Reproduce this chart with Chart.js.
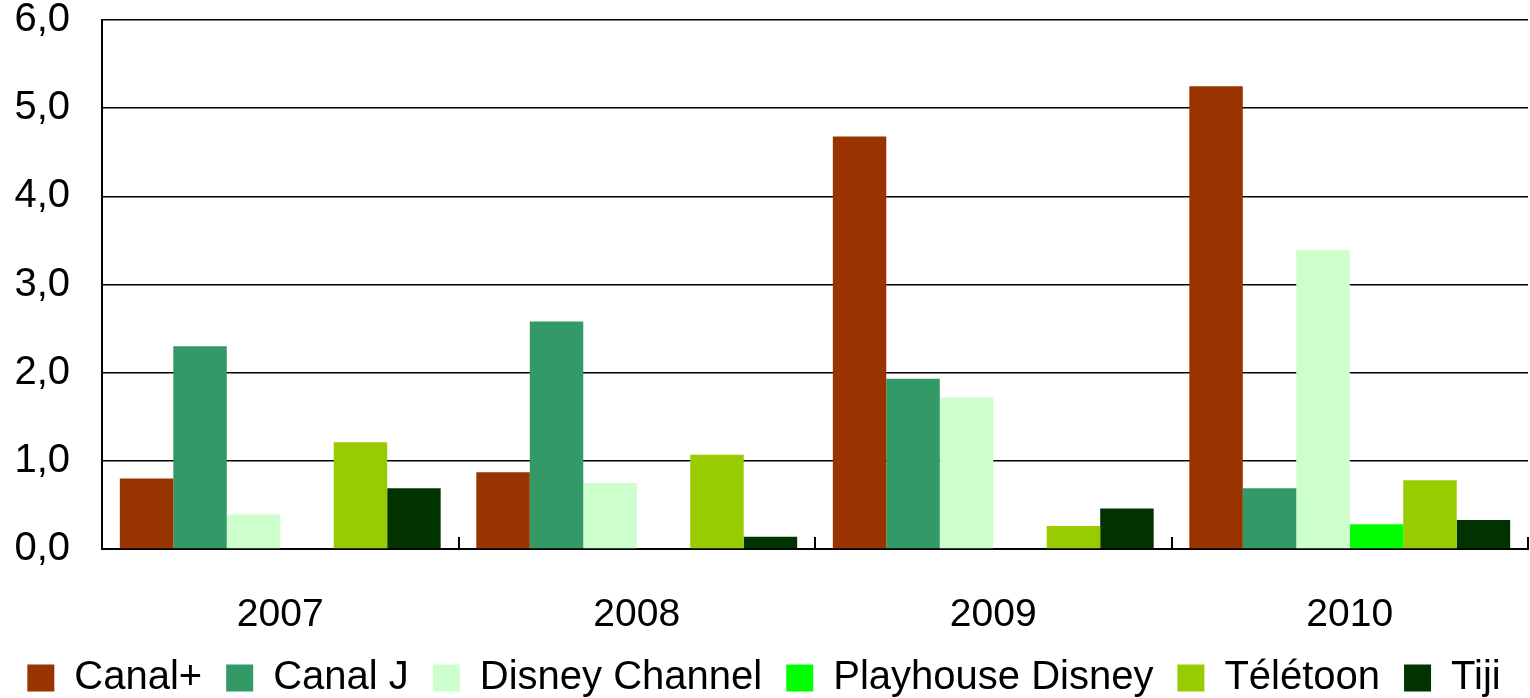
<!DOCTYPE html>
<html>
<head>
<meta charset="utf-8">
<script src="https://cdn.jsdelivr.net/npm/chart.js@4/dist/chart.umd.min.js"></script>
<style>
  html, body { margin: 0; padding: 0; background: #fff; }
  #wrap { width: 1530px; height: 698px; }
</style>
</head>
<body>
<div id="wrap"><canvas id="chart"></canvas></div>
<script>
// DATA
const years = ['2007', '2008', '2009', '2010'];
const canalPlus = [0.80, 0.87, 4.68, 5.25];
const canalJ = [2.30, 2.58, 1.93, 0.69];
const disneyChannel = [0.39, 0.75, 1.72, 3.39];
const playhouseDisney = [0, 0, 0, 0.28];
const teletoon = [1.21, 1.07, 0.26, 0.78];
const tiji = [0.69, 0.14, 0.46, 0.33];
const yTicks = [0, 1, 2, 3, 4, 5, 6];

const seriesNames = ['Canal+', 'Canal J', 'Disney Channel', 'Playhouse Disney', 'Télétoon', 'Tiji'];
const seriesValues = [canalPlus, canalJ, disneyChannel, playhouseDisney, teletoon, tiji];
const seriesColors = ['#993300', '#339966', '#CCFFCC', '#00FF00', '#99CC00', '#003300'];

Chart.defaults.font.family = '"Liberation Sans", Arial, sans-serif';
Chart.defaults.color = '#000';

const ctx = document.getElementById('chart').getContext('2d');
new Chart(ctx, {
    type: 'bar',
    data: {
        labels: years,
        datasets: seriesNames.map((name, i) => ({
            label: name,
            data: seriesValues[i],
            backgroundColor: seriesColors[i],
            borderWidth: 0,
            categoryPercentage: 0.9,
            barPercentage: 1.0
        }))
    },
    options: {
        responsive: true,
        maintainAspectRatio: false,
        animation: false,
        layout: { padding: { top: 0, right: 2, left: 0, bottom: -10 } },
        plugins: {
            tooltip: { enabled: false },
            legend: {
                position: 'bottom',
                labels: {
                    font: { size: 40 },
                    boxWidth: 27,
                    boxHeight: 27,
                    padding: 24
                }
            }
        },
        scales: {
            x: {
                grid: {
                    offset: true,
                    drawOnChartArea: false,
                    drawTicks: true,
                    tickLength: -12,
                    color: '#000',
                    lineWidth: 2
                },
                border: { color: '#000', width: 2 },
                ticks: { font: { size: 39 }, padding: 55 },
                afterFit: (scale) => { scale.height = 85; }
            },
            y: {
                min: 0,
                max: 6,
                afterBuildTicks: (scale) => {
                    scale.ticks = yTicks.map(v => ({ value: v }));
                },
                grid: { color: '#000', lineWidth: 1.5, drawTicks: false },
                border: { color: '#000', width: 2 },
                ticks: {
                    font: { size: 40 },
                    padding: 32,
                    callback: (v) => v.toFixed(1).replace('.', ',')
                },
                afterFit: (scale) => {
                    scale.width = 102;
                    scale.paddingTop = 20;
                    scale.paddingBottom = 20;
                }
            }
        }
    }
});
</script>
</body>
</html>
